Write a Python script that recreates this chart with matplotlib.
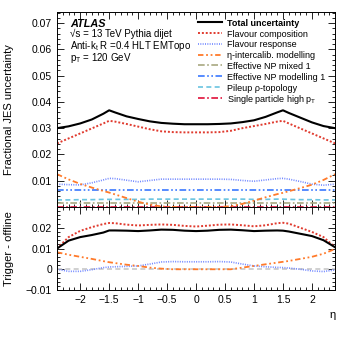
import matplotlib
matplotlib.use("Agg")
import matplotlib.pyplot as plt
from matplotlib.ticker import MultipleLocator
from matplotlib.lines import Line2D

eta = [-2.4, -2.2, -2.0, -1.8, -1.6, -1.5, -1.4, -1.2, -1.0, -0.8, -0.6, -0.4, -0.2, 0.0,
       0.2, 0.4, 0.6, 0.8, 1.0, 1.2, 1.4, 1.5, 1.6, 1.8, 2.0, 2.2, 2.4]

# top panel: fractional JES uncertainty
total_top = [0.0300, 0.0307, 0.0318, 0.0333, 0.0355, 0.0368, 0.0360, 0.0345, 0.0335, 0.0326, 0.0320, 0.0317, 0.0315, 0.0315,
             0.0315, 0.0316, 0.0318, 0.0323, 0.0330, 0.0343, 0.0360, 0.0368, 0.0358, 0.0340, 0.0322, 0.0308, 0.0300]
flavcomp_top = [0.0242, 0.0261, 0.0280, 0.0299, 0.0318, 0.0328, 0.0325, 0.0316, 0.0306, 0.0296, 0.0288, 0.0285, 0.0284, 0.0284,
                0.0284, 0.0285, 0.0290, 0.0300, 0.0308, 0.0316, 0.0325, 0.0328, 0.0318, 0.0299, 0.0280, 0.0261, 0.0242]
flavresp_top = [0.0087, 0.0085, 0.0084, 0.0092, 0.0103, 0.0109, 0.0108, 0.0102, 0.0096, 0.0101, 0.0106, 0.0106, 0.0106, 0.0106,
                0.0106, 0.0106, 0.0105, 0.0101, 0.0098, 0.0103, 0.0108, 0.0109, 0.0106, 0.0097, 0.0087, 0.0083, 0.0087]
etaint_top = [0.0125, 0.0105, 0.0088, 0.0074, 0.0061, 0.0055, 0.0048, 0.0034, 0.0020, 0.0009, 0.0002, 0.0, 0.0, 0.0,
              0.0, 0.0, 0.0003, 0.0012, 0.0024, 0.0037, 0.0049, 0.0054, 0.0060, 0.0072, 0.0085, 0.0103, 0.0125]
npmixed_top = [0.0014, 0.0014, 0.0014, 0.0014, 0.0014, 0.0014, 0.0014, 0.0014, 0.0014, 0.0014, 0.0014, 0.0014, 0.0014, 0.0014,
               0.0014, 0.0014, 0.0014, 0.0014, 0.0014, 0.0014, 0.0014, 0.0014, 0.0014, 0.0014, 0.0014, 0.0014, 0.0014]
npmodel_top = [0.0063, 0.0063, 0.0063, 0.0063, 0.0063, 0.0063, 0.0063, 0.0063, 0.0063, 0.0063, 0.0063, 0.0063, 0.0063, 0.0063,
               0.0063, 0.0063, 0.0063, 0.0063, 0.0063, 0.0063, 0.0063, 0.0063, 0.0063, 0.0063, 0.0063, 0.0063, 0.0063]
pileup_top = [0.0027, 0.0027, 0.0028, 0.0028, 0.0029, 0.0029, 0.0029, 0.0029, 0.0029, 0.0030, 0.0030, 0.0030, 0.0030, 0.0030,
              0.0030, 0.0030, 0.0030, 0.0030, 0.0029, 0.0029, 0.0030, 0.0030, 0.0029, 0.0028, 0.0028, 0.0027, 0.0027]
single_top = [0.0, 0.0, 0.0, 0.0, 0.0, 0.0, 0.0, 0.0, 0.0, 0.0, 0.0, 0.0, 0.0, 0.0,
              0.0, 0.0, 0.0, 0.0, 0.0, 0.0, 0.0, 0.0, 0.0, 0.0, 0.0, 0.0, 0.0]

# bottom panel: trigger - offline
total_bot = [0.0100, 0.0138, 0.0155, 0.0165, 0.0177, 0.0187, 0.0187, 0.0186, 0.0184, 0.0187, 0.0191, 0.0190, 0.0186, 0.0184,
             0.0186, 0.0190, 0.0191, 0.0188, 0.0184, 0.0186, 0.0187, 0.0186, 0.0182, 0.0171, 0.0160, 0.0140, 0.0106]
flavcomp_bot = [0.0100, 0.0155, 0.0185, 0.0203, 0.0218, 0.0223, 0.0222, 0.0215, 0.0211, 0.0214, 0.0216, 0.0214, 0.0209, 0.0206,
                0.0210, 0.0215, 0.0216, 0.0212, 0.0207, 0.0212, 0.0222, 0.0224, 0.0220, 0.0200, 0.0180, 0.0155, 0.0106]
flavresp_bot = [0.0, -0.0010, -0.0010, -0.0002, 0.0008, 0.0011, 0.0012, 0.0014, 0.0016, 0.0025, 0.0035, 0.0037, 0.0036, 0.0036,
                0.0036, 0.0037, 0.0035, 0.0025, 0.0016, 0.0012, 0.0009, 0.0008, 0.0006, 0.0, -0.0008, -0.0011, -0.0003]
etaint_bot = [0.0082, 0.0070, 0.0060, 0.0050, 0.0039, 0.0034, 0.0030, 0.0022, 0.0016, 0.0008, 0.0003, 0.0, 0.0, 0.0,
              0.0, 0.0, 0.0, 0.0008, 0.0016, 0.0024, 0.0032, 0.0036, 0.0040, 0.0050, 0.0060, 0.0075, 0.0098]
zero_bot = [0.0, 0.0, 0.0, 0.0, 0.0, 0.0, 0.0, 0.0, 0.0, 0.0, 0.0, 0.0, 0.0, 0.0,
            0.0, 0.0, 0.0, 0.0, 0.0, 0.0, 0.0, 0.0, 0.0, 0.0, 0.0, 0.0, 0.0]

labels = ["Total uncertainty", "Flavour composition", "Flavour response",
          "\u03b7-intercalib. modelling", "Effective NP mixed 1",
          "Effective NP modelling 1", "Pileup \u03c1-topology",
          r"Single particle high p$_\mathregular{T}$"]

styles = [
    dict(color="black", lw=1.5, ls="-"),
    dict(color="#e03a2e", lw=1.4, ls=(0, (1, 1))),
    dict(color="#6f86ff", lw=1.2, ls=(0, (0.6, 0.8))),
    dict(color="#ff7a2a", lw=1.3, ls=(0, (3, 1.5, 1, 1.5, 1, 1.5))),
    dict(color="#a8a880", lw=1.2, ls=(0, (4, 1.5, 1, 1.5))),
    dict(color="#3a78ff", lw=1.2, ls=(0, (4, 1.5, 1, 1.5, 1, 1.5))),
    dict(color="#6ac4e0", lw=1.2, ls=(0, (3, 2))),
    dict(color="#e0103a", lw=1.2, ls=(0, (4, 1.5, 1, 1.5))),
]

plt.rcParams['font.family'] = ['Liberation Sans', 'DejaVu Sans']
plt.rcParams['mathtext.fontset'] = 'custom'
plt.rcParams['mathtext.rm'] = 'Liberation Sans'
plt.rcParams['mathtext.it'] = 'Liberation Sans:italic'

fig = plt.figure(figsize=(3.52, 3.46), dpi=100)
ax1 = fig.add_axes([0.162, 0.4017, 0.790, 0.5636])
ax2 = fig.add_axes([0.162, 0.1618, 0.790, 0.2399], sharex=ax1)

top_series = [total_top, flavcomp_top, flavresp_top, etaint_top, npmixed_top,
              npmodel_top, pileup_top, single_top]
order = [7, 4, 6, 5, 2, 3, 1, 0]
for i in order:
    ax1.plot(eta, top_series[i], **styles[i])

ax2.plot(eta, zero_bot, color="#c8c8c8", lw=1.2, ls=(0, (3, 2)))
bot_series = {0: total_bot, 1: flavcomp_bot, 2: flavresp_bot, 3: etaint_bot}
for i in [2, 3, 1, 0]:
    ax2.plot(eta, bot_series[i], **styles[i])

ax1.set_xlim(-2.4, 2.4)
ax1.set_ylim(0, 0.0742)
ax2.set_ylim(-0.01, 0.03)

for ax in (ax1, ax2):
    ax.tick_params(which="both", direction="in", top=True, right=True, labelsize=7.5)
    ax.tick_params(which="major", length=5, width=0.6)
    ax.tick_params(which="minor", length=2.5, width=0.6)
    ax.xaxis.set_major_locator(MultipleLocator(0.5))
    ax.xaxis.set_minor_locator(MultipleLocator(0.1))
    for s in ax.spines.values():
        s.set_linewidth(0.7)

ax1.yaxis.set_minor_locator(MultipleLocator(0.002))
ax1.set_yticks([0.01, 0.02, 0.03, 0.04, 0.05, 0.06, 0.07])
ax1.set_yticklabels(["0.01", "0.02", "0.03", "0.04", "0.05", "0.06", "0.07"])
ax1.tick_params(labelbottom=False)
ax2.set_yticks([-0.01, 0.0, 0.01, 0.02])
ax2.set_yticklabels(["\u22120.01", "0", "0.01", "0.02"])
ax2.yaxis.set_minor_locator(MultipleLocator(0.002))
ax2.set_xticks([-2, -1.5, -1, -0.5, 0, 0.5, 1, 1.5, 2])
ax2.set_xticklabels(["\u22122", "\u22121.5", "\u22121", "\u22120.5", "0", "0.5", "1", "1.5", "2"])

ax1.set_ylabel("Fractional JES uncertainty", fontsize=8)
ax2.set_ylabel("Trigger - offline", fontsize=8)
ax1.yaxis.set_label_coords(-0.155, 0.5)
ax2.yaxis.set_label_coords(-0.155, 0.5)
fig.text(0.945, 0.08, "\u03b7", fontsize=8, ha="center")

# ATLAS label block
ax1.text(0.047, 0.944, "ATLAS", transform=ax1.transAxes, fontsize=7.8, fontweight="bold",
         fontstyle="italic", va="center_baseline")
ax1.text(0.047, 0.892, "\u221as = 13 TeV Pythia dijet", transform=ax1.transAxes,
         fontsize=7, va="center_baseline")
ax1.text(0.047, 0.836, r"Anti-k$_\mathregular{t}$ R =0.4 HLT EMTopo", transform=ax1.transAxes,
         fontsize=7, va="center_baseline")
ax1.text(0.047, 0.772, r"p$_\mathregular{T}$ = 120 GeV", transform=ax1.transAxes,
         fontsize=7, va="center_baseline")

# legend drawn by hand for exact spacing
for k in range(8):
    yk = 0.947 - k * 0.0553
    ax1.add_line(Line2D([0.507, 0.594], [yk, yk], transform=ax1.transAxes, **styles[k]))
    ax1.text(0.612, yk, labels[k], transform=ax1.transAxes, fontsize=6.5,
             va="center_baseline", fontweight=("bold" if k == 0 else "normal"))

fig.savefig("out.png", dpi=100)
